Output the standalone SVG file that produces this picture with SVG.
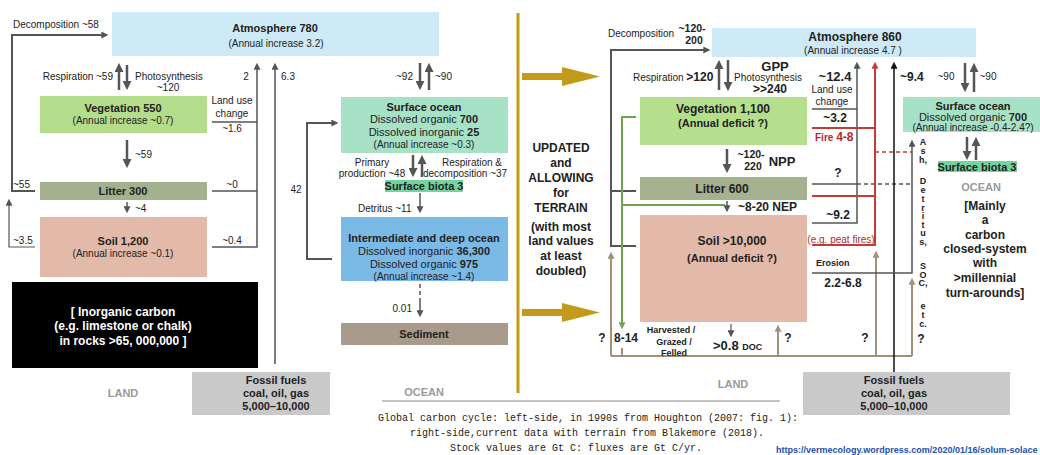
<svg xmlns="http://www.w3.org/2000/svg" width="1040" height="455" viewBox="0 0 1040 455">
<style>
text{font-family:"Liberation Sans",Arial,sans-serif;fill:#222;font-size:10px}
.b{font-weight:bold}
.m{text-anchor:middle}
.e{text-anchor:end}
.f11{font-size:11px}
.f12{font-size:12px}
.f13{font-size:13px}
.f9{font-size:9px}
.fs{font-size:10.5px}
.gr{fill:#9a9a9a}
.w{fill:#fff}
.red{fill:#b52a2a}
.mono{font-family:"Liberation Mono",monospace;font-size:10px;fill:#222}
.ln{fill:none;stroke:#555;stroke-width:1.5}
.lnt{fill:none;stroke:#555;stroke-width:2.5}
.lr{fill:none;stroke:#c43b3b;stroke-width:2}
.lt{fill:none;stroke:#a58f77;stroke-width:2}
.lg{fill:none;stroke:#6fa350;stroke-width:2}
.lk{fill:none;stroke:#111;stroke-width:1.5}
.dash{stroke-dasharray:4 3}
</style>
<defs>
<marker id="mG" viewBox="0 0 10 10" refX="1" refY="5" markerWidth="7" markerHeight="7" markerUnits="userSpaceOnUse" orient="auto"><path d="M0,0L10,5L0,10z" fill="#555"/></marker>
<marker id="mB" viewBox="0 0 10 10" refX="1" refY="5" markerWidth="9" markerHeight="9" markerUnits="userSpaceOnUse" orient="auto"><path d="M0,0L10,5L0,10z" fill="#555"/></marker>
<marker id="mR" viewBox="0 0 10 10" refX="1" refY="5" markerWidth="7" markerHeight="7" markerUnits="userSpaceOnUse" orient="auto"><path d="M0,0L10,5L0,10z" fill="#c43b3b"/></marker>
<marker id="mT" viewBox="0 0 10 10" refX="1" refY="5" markerWidth="7" markerHeight="7" markerUnits="userSpaceOnUse" orient="auto"><path d="M0,0L10,5L0,10z" fill="#a58f77"/></marker>
<marker id="mGr" viewBox="0 0 10 10" refX="1" refY="5" markerWidth="7" markerHeight="7" markerUnits="userSpaceOnUse" orient="auto"><path d="M0,0L10,5L0,10z" fill="#6fa350"/></marker>
<marker id="mK" viewBox="0 0 10 10" refX="1" refY="5" markerWidth="7" markerHeight="7" markerUnits="userSpaceOnUse" orient="auto"><path d="M0,0L10,5L0,10z" fill="#111"/></marker>
</defs>
<rect width="1040" height="455" fill="#fff"/>

<!-- LEFT NODES -->
<g id="atm1"><rect x="112" y="12" width="327" height="44" fill="#cdeaf6"/><text x="275" y="32" class="b m f11">Atmosphere 780</text><text x="276" y="47" class="m">(Annual increase 3.2)</text></g>
<g id="veg1"><rect x="40" y="96" width="167" height="37" fill="#b3dc8b"/><text x="123" y="112" class="b m f11">Vegetation 550</text><text x="123" y="124" class="m">(Annual increase ~0.7)</text></g>
<g id="lit1"><rect x="40" y="182" width="167" height="18" fill="#a4b18f"/><text x="123" y="195" class="b m f11">Litter 300</text></g>
<g id="soil1"><rect x="40" y="217" width="167" height="60" fill="#e3baa9"/><text x="123" y="245" class="b m f11">Soil 1,200</text><text x="123" y="257" class="m">(Annual increase ~0.1)</text></g>
<g id="inorg"><rect x="12" y="282" width="246" height="86" fill="#000"/><text x="123" y="316" class="b m f12 w">[ Inorganic carbon</text><text x="123" y="330" class="b m f12 w">(e.g. limestone or chalk)</text><text x="123" y="345" class="b m f12 w">in rocks &gt;65, 000,000 ]</text></g>
<g id="fossil1"><rect x="192" y="372" width="138" height="43" fill="#c9c9c9"/><text x="276" y="384" class="b m f11">Fossil fuels</text><text x="276" y="397" class="b m f11">coal, oil, gas</text><text x="276" y="410" class="b m f11">5,000–10,000</text></g>
<g id="surf1"><rect x="341" y="97" width="167" height="56" fill="#a7e1c6"/><text x="424" y="111" class="b m f11">Surface ocean</text><text x="424" y="123" class="m f11">Dissolved organic <tspan class="b">700</tspan></text><text x="424" y="136" class="m f11">Dissolved inorganic <tspan class="b">25</tspan></text><text x="424" y="148" class="m">(Annual increase ~0.3)</text></g>
<g id="biota1"><rect x="385" y="180" width="78" height="12" fill="#74d39e"/><text x="424" y="190" class="b m f11">Surface biota 3</text></g>
<g id="deep1"><rect x="341" y="217" width="167" height="64" fill="#7bb9e7"/><text x="424" y="242" class="b m f11">Intermediate and deep ocean</text><text x="424" y="255" class="m f11">Dissolved inorganic <tspan class="b">36,300</tspan></text><text x="424" y="268" class="m f11">Dissolved organic <tspan class="b">975</tspan></text><text x="424" y="280" class="m">(Annual increase ~1.4)</text></g>
<g id="sed1"><rect x="341" y="323" width="167" height="22" fill="#a99b8b"/><text x="424" y="338" class="b m f11">Sediment</text></g>

<!-- RIGHT NODES -->
<g id="atm2"><rect x="712" y="28" width="264" height="29" fill="#cdeaf6"/><text x="855" y="41" class="b m f12">Atmosphere  860</text><text x="853" y="54" class="m">(Annual increase 4.7 )</text></g>
<g id="veg2"><rect x="640" y="97" width="167" height="48" fill="#b5df8c"/><text x="723" y="113" class="b m f12">Vegetation  1,100</text><text x="723" y="127" class="b m f11">(Annual deficit ?)</text></g>
<g id="lit2"><rect x="640" y="177" width="167" height="23" fill="#a5b18f"/><text x="722" y="193" class="b m f12">Litter  600</text></g>
<g id="soil2"><rect x="640" y="215" width="167" height="107" fill="#e3b9aa"/><text x="732" y="245" class="b m f12">Soil  &gt;10,000</text><text x="732" y="262" class="b m f11">(Annual deficit ?)</text></g>
<g id="surf2"><rect x="903" y="97" width="137" height="35" fill="#a7e1c6"/><text x="973" y="110" class="b m f11">Surface ocean</text><text x="973" y="121" class="m f11">Dissolved organic <tspan class="b">700</tspan></text><text x="973" y="131" class="m">(Annual increase  -0.4-2.4?)</text></g>
<g id="biota2"><rect x="938" y="161" width="79" height="11" fill="#74d39e"/><text x="977" y="171" class="b m f11">Surface biota 3</text></g>
<g id="fossil2"><rect x="803" y="372" width="207" height="43" fill="#c9c9c9"/><text x="894" y="384" class="b m f11">Fossil fuels</text><text x="894" y="397" class="b m f11">coal, oil, gas</text><text x="894" y="410" class="b m f11">5,000–10,000</text></g>

<!-- CONNECTORS -->
<g id="connectors">
<path class="ln" style="stroke-width:2" d="M35,191H12V35H102" marker-end="url(#mG)"/>
<path class="ln" style="stroke-width:1.2" d="M35,247H9V205" marker-end="url(#mG)"/>
<line class="lnt" x1="119" y1="90" x2="119" y2="71" marker-end="url(#mB)"/>
<line class="lnt" x1="127" y1="65" x2="127" y2="82" marker-end="url(#mB)"/>
<line class="lnt" x1="127" y1="140" x2="127" y2="160" marker-end="url(#mB)"/>
<line class="ln" x1="127" y1="202" x2="127" y2="207" marker-end="url(#mG)"/>
<path class="ln" d="M212,122H257M212,191H257"/>
<path class="ln" d="M212,247H257V69" marker-end="url(#mG)"/>
<line class="ln" x1="275" y1="364" x2="275" y2="69" marker-end="url(#mG)"/>
<path class="ln" style="stroke-width:2" d="M332,259H307V123H332" marker-end="url(#mG)"/>
<line class="lnt" x1="420" y1="63" x2="420" y2="82" marker-end="url(#mB)"/>
<line class="lnt" x1="429" y1="90" x2="429" y2="71" marker-end="url(#mB)"/>
<line class="lnt" x1="413" y1="155" x2="413" y2="169" marker-end="url(#mB)"/>
<line class="lnt" x1="422" y1="177" x2="422" y2="163" marker-end="url(#mB)"/>
<line class="ln" x1="420" y1="193" x2="420" y2="207" marker-end="url(#mG)"/>
<line class="ln dash" x1="420" y1="284" x2="420" y2="302"/>
<line class="ln" x1="420" y1="302" x2="420" y2="311" marker-end="url(#mG)"/>
<line x1="382" y1="401" x2="780" y2="401" stroke="#888" stroke-width="1"/>
<line x1="518" y1="13" x2="518" y2="393" stroke="#c49a1c" stroke-width="3"/>
<polygon points="522,73 562,73 562,67 600,76.5 562,86 562,80 522,80" fill="#c49a1c"/>
<polygon points="522,309 562,309 562,303 600,312.5 562,322 562,316 522,316" fill="#c49a1c"/>
<!-- right -->
<path class="ln" style="stroke-width:2" d="M636,246H611V50H704" marker-end="url(#mG)"/>
<path class="ln" style="stroke-width:2" d="M636,191H611"/>
<line class="lnt" x1="719" y1="90" x2="719" y2="68" marker-end="url(#mB)"/>
<line class="lnt" x1="728" y1="60" x2="728" y2="83" marker-end="url(#mB)"/>
<line class="lnt" x1="727" y1="149" x2="727" y2="165" marker-end="url(#mB)"/>
<path class="lg" d="M636,117H622V323" marker-end="url(#mGr)"/>
<path class="lg" d="M622,205H725"/>
<line class="ln" x1="727" y1="201" x2="727" y2="206" marker-end="url(#mG)"/>
<path class="lt" d="M611,356H912M622,348V356"/>
<path class="lt" d="M611,356V258" marker-end="url(#mT)"/>
<path class="lt" d="M778,356V331" marker-end="url(#mT)"/>
<path class="lt" d="M876,356V257" marker-end="url(#mT)"/>
<path class="lt" d="M912,356V284" marker-end="url(#mT)"/>
<path class="ln" d="M812,109H857M812,184H857"/>
<path class="ln" d="M812,223H857V68" marker-end="url(#mG)"/>
<path class="ln dash" d="M857,184H912"/>
<path class="lr" d="M812,128H875M812,196H875"/>
<path class="lr" d="M812,245H875V68" marker-end="url(#mR)"/>
<path class="lr dash" style="stroke-width:1.5" d="M875,152H912"/>
<path class="lk" d="M894,372V68" marker-end="url(#mK)"/>
<path class="ln" d="M812,273H912V146" marker-end="url(#mG)"/>
<line class="lnt" x1="965" y1="63" x2="965" y2="84" marker-end="url(#mB)"/>
<line class="lnt" x1="974" y1="92" x2="974" y2="71" marker-end="url(#mB)"/>
<line class="lnt" x1="967" y1="137" x2="967" y2="152" marker-end="url(#mB)"/>
<line class="lnt" x1="976" y1="160" x2="976" y2="145" marker-end="url(#mB)"/>
<line class="ln" style="stroke-width:1.2" x1="731" y1="324" x2="731" y2="331" marker-end="url(#mG)"/>
</g>

<!-- LEFT LABELS -->
<g id="labels-left">
<text x="13" y="28">Decomposition ~58</text>
<text x="113" y="80" class="e">Respiration ~59</text>
<text x="135" y="80">Photosynthesis</text>
<text x="168" y="91" class="m">~120</text>
<text x="232" y="104" class="m">Land use</text>
<text x="232" y="117" class="m">change</text>
<text x="232" y="132" class="m">~1.6</text>
<text x="246" y="80" class="m">2</text>
<text x="288" y="80" class="m">6.3</text>
<text x="135" y="158">~59</text>
<text x="13" y="188">~55</text>
<text x="232" y="188" class="m">~0</text>
<text x="135" y="212">~4</text>
<text x="13" y="244">~3.5</text>
<text x="232" y="244" class="m">~0.4</text>
<text x="123" y="397" class="b m f11 gr">LAND</text>
<text x="413" y="80" class="e">~92</text>
<text x="435" y="80">~90</text>
<text x="372" y="166" class="m">Primary</text>
<text x="372" y="177" class="m">production ~48</text>
<text x="472" y="166" class="m">Respiration &amp;</text>
<text x="465" y="177" class="m">decomposition ~37</text>
<text x="296" y="193" class="m">42</text>
<text x="358" y="212">Detritus ~11</text>
<text x="412" y="312" class="e">0.01</text>
<text x="424" y="396" class="b m f11 gr">OCEAN</text>
</g>

<!-- MIDDLE -->
<g id="middle">
<text x="561" y="152" class="b m f12">UPDATED</text>
<text x="561" y="167" class="b m f12">and</text>
<text x="561" y="182" class="b m f12">ALLOWING</text>
<text x="561" y="197" class="b m f12">for</text>
<text x="561" y="212" class="b m f12">TERRAIN</text>
<text x="561" y="231" class="b m f12">(with most</text>
<text x="561" y="245" class="b m f12">land values</text>
<text x="561" y="260" class="b m f12">at least</text>
<text x="561" y="275" class="b m f12">doubled)</text>
</g>

<!-- RIGHT LABELS -->
<g id="labels-right">
<text x="641" y="37" class="m">Decomposition</text>
<text x="692" y="32" class="b m fs">~120-</text>
<text x="694" y="44" class="b m fs">200</text>
<text x="633" y="81">Respiration <tspan class="b f12">&gt;120</tspan></text>
<text x="775" y="71" class="b m f13">GPP</text>
<text x="768" y="81" class="m">Photosynthesis</text>
<text x="770" y="93" class="b m f12">&gt;&gt;240</text>
<text x="751" y="158" class="b m fs">~120-</text>
<text x="753" y="170" class="b m fs">220</text>
<text x="782" y="166" class="b m f13">NPP</text>
<text x="738" y="211" class="b f12">~8-20 NEP</text>
<text x="835" y="81" class="b m f13">~12.4</text>
<text x="832" y="93" class="m">Land use</text>
<text x="832" y="105" class="m">change</text>
<text x="835" y="122" class="b m f12">~3.2</text>
<text x="815" y="141" class="b red">Fire <tspan class="f12">4-8</tspan></text>
<text x="838" y="177" class="b m f12">?</text>
<text x="838" y="219" class="b m f12">~9.2</text>
<text x="841" y="243" class="m red">(e.g. peat fires)</text>
<text x="816" y="266" class="b f9">Erosion</text>
<text x="843" y="287" class="b m f12">2.2-6.8</text>
<text x="900" y="81" class="b f12">~9.4</text>
<text x="946" y="80" class="m">~90</text>
<text x="988" y="80" class="m">~90</text>
<text x="981" y="191" class="b m f11 gr">OCEAN</text>
<text x="985" y="210" class="b m f12">[Mainly</text>
<text x="985" y="224" class="b m f12">a</text>
<text x="985" y="239" class="b m f12">carbon</text>
<text x="985" y="253" class="b m f12">closed-system</text>
<text x="985" y="267" class="b m f12">with</text>
<text x="985" y="282" class="b m f12">&gt;millennial</text>
<text x="985" y="297" class="b m f12">turn-arounds]</text>
<g class="vert">
<text x="923" y="145" class="b m f9">A</text>
<text x="923" y="154" class="b m f9">s</text>
<text x="923" y="163" class="b m f9">h,</text>
<text x="923" y="184" class="b m f9">D</text>
<text x="923" y="193" class="b m f9">e</text>
<text x="923" y="202" class="b m f9">t</text>
<text x="923" y="211" class="b m f9">r</text>
<text x="923" y="219" class="b m f9">i</text>
<text x="923" y="228" class="b m f9">t</text>
<text x="923" y="236" class="b m f9">u</text>
<text x="923" y="245" class="b m f9">s,</text>
<text x="923" y="269" class="b m f9">S</text>
<text x="923" y="278" class="b m f9">O</text>
<text x="923" y="286" class="b m f9">C,</text>
<text x="923" y="309" class="b m f9">e</text>
<text x="923" y="318" class="b m f9">t</text>
<text x="923" y="327" class="b m f9">c.</text>
</g>
<text x="602" y="342" class="b m f12">?</text>
<text x="626" y="342" class="b m f12">8-14</text>
<text x="788" y="342" class="b m f12">?</text>
<text x="865" y="342" class="b m f12">?</text>
<text x="921" y="343" class="b m f12">?</text>
<text x="671" y="333" class="b m f9">Harvested /</text>
<text x="674" y="345" class="b m f9">Grazed /</text>
<text x="674" y="356" class="b m f9">Felled</text>
<text x="713" y="350" class="b f13">&gt;0.8 <tspan class="f9">DOC</tspan></text>
<text x="733" y="388" class="b m f11 gr">LAND</text>
</g>

<!-- CAPTION -->
<g id="caption">
<text x="378" y="421" class="mono">Global carbon cycle: left-side, in 1990s from Houghton (2007: fig. 1):</text>
<text x="410" y="436" class="mono">right-side,current data with terrain from Blakemore (2018).</text>
<text x="450" y="451" class="mono">Stock values are Gt C: fluxes are Gt C/yr.</text>
<text x="776" y="453" class="b" style="font-size:9px;fill:#2050b0">https://vermecology.wordpress.com/2020/01/16/solum-solace</text>
</g>
</svg>
